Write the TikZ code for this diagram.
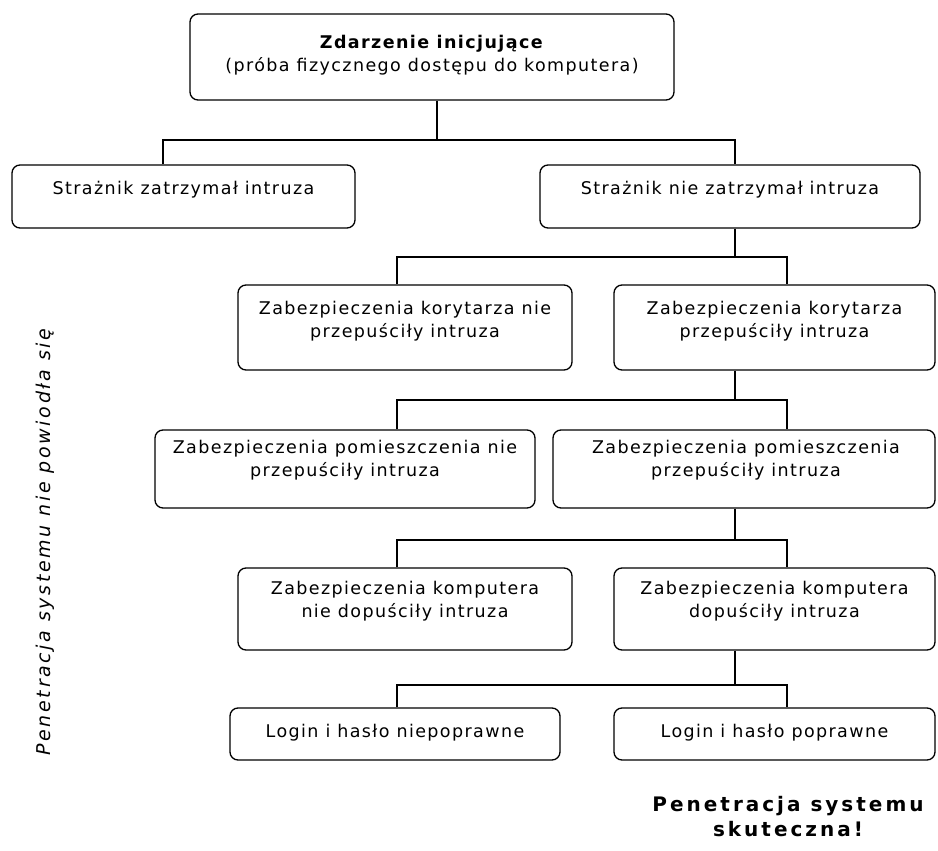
\documentclass[tikz,border=0pt]{standalone}
\usepackage{fontspec}
\setmainfont[LetterSpace=8]{DejaVu Sans}
\newfontfamily\rotfont[LetterSpace=14]{DejaVu Sans}
\newfontfamily\widefont[LetterSpace=15]{DejaVu Sans}
\begin{document}
\begin{tikzpicture}[x=1pt, y=-1pt,
  box/.style={draw, rounded corners=8pt, line width=1.3pt, inner sep=0pt},
  txt/.style={align=center, inner sep=0pt, font=\fontsize{17.5}{23}\selectfont},
  conn/.style={line width=1.3pt}]
\useasboundingbox (0,0) rectangle (938,851);

\node[box, minimum width=484pt, minimum height=86pt] (top) at (432,57) {};
\node[txt] (topt) at (432,55) {\textbf{Zdarzenie inicjujące}\\(próba fizycznego dostępu do komputera)};

\node[box, minimum width=343pt, minimum height=63pt] (s1) at (183.5,196.5) {};
\node[txt] (s1t) at (183.5,190) {Strażnik zatrzymał intruza};
\node[box, minimum width=380pt, minimum height=63pt] (s2) at (730,196.5) {};
\node[txt] (s2t) at (730,190) {Strażnik nie zatrzymał intruza};

\node[box, minimum width=334pt, minimum height=85pt] (k1) at (405,327.5) {};
\node[txt] (k1t) at (405,321) {Zabezpieczenia korytarza nie\\przepuściły intruza};
\node[box, minimum width=321pt, minimum height=85pt] (k2) at (774.5,327.5) {};
\node[txt] (k2t) at (774.5,321) {Zabezpieczenia korytarza\\przepuściły intruza};

\node[box, minimum width=380pt, minimum height=78pt] (p1) at (345,469) {};
\node[txt] (p1t) at (345,460) {Zabezpieczenia pomieszczenia nie\\przepuściły intruza};
\node[box, minimum width=382pt, minimum height=78pt] (p2) at (744,469) {};
\node[txt] (p2t) at (746,460) {Zabezpieczenia pomieszczenia\\przepuściły intruza};

\node[box, minimum width=334pt, minimum height=82pt] (c1) at (405,609) {};
\node[txt] (c1t) at (405,601) {Zabezpieczenia komputera\\nie dopuściły intruza};
\node[box, minimum width=321pt, minimum height=82pt] (c2) at (774.5,609) {};
\node[txt] (c2t) at (774.5,601) {Zabezpieczenia komputera\\dopuściły intruza};

\node[box, minimum width=330pt, minimum height=52pt] (l1) at (395,734) {};
\node[txt] (l1t) at (395,733) {Login i hasło niepoprawne};
\node[box, minimum width=321pt, minimum height=52pt] (l2) at (774.5,734) {};
\node[txt] (l2t) at (774.5,733) {Login i hasło poprawne};

\node[rotate=90, inner sep=0pt, font=\rotfont\itshape\fontsize{19}{22}\selectfont] (fail) at (45,542) {Penetracja systemu nie powiodła się};
\node[align=center, inner sep=0pt, font=\widefont\bfseries\fontsize{20}{25}\selectfont] (succ) at (788,817) {Penetracja systemu\\skuteczna!};

\coordinate (b1) at (437,140);
\draw[conn] (top.south -| b1) -- (b1);
\draw[conn] ([xshift=-20.5pt]s1.north) |- (b1) -| ([xshift=5pt]s2.north);

\coordinate (b2) at (735,257);
\draw[conn] (s2.south -| b2) -- (b2);
\draw[conn] ([xshift=-8pt]k1.north) |- (b2) -| ([xshift=12.5pt]k2.north);

\coordinate (b3) at (735,400);
\draw[conn] (k2.south -| b3) -- (b3);
\draw[conn] ([xshift=52pt]p1.north) |- (b3) -| ([xshift=43pt]p2.north);

\coordinate (b4) at (735,540);
\draw[conn] (p2.south -| b4) -- (b4);
\draw[conn] ([xshift=-8pt]c1.north) |- (b4) -| ([xshift=12.5pt]c2.north);

\coordinate (b5) at (735,685);
\draw[conn] (c2.south -| b5) -- (b5);
\draw[conn] ([xshift=2pt]l1.north) |- (b5) -| ([xshift=12.5pt]l2.north);
\end{tikzpicture}
\end{document}
